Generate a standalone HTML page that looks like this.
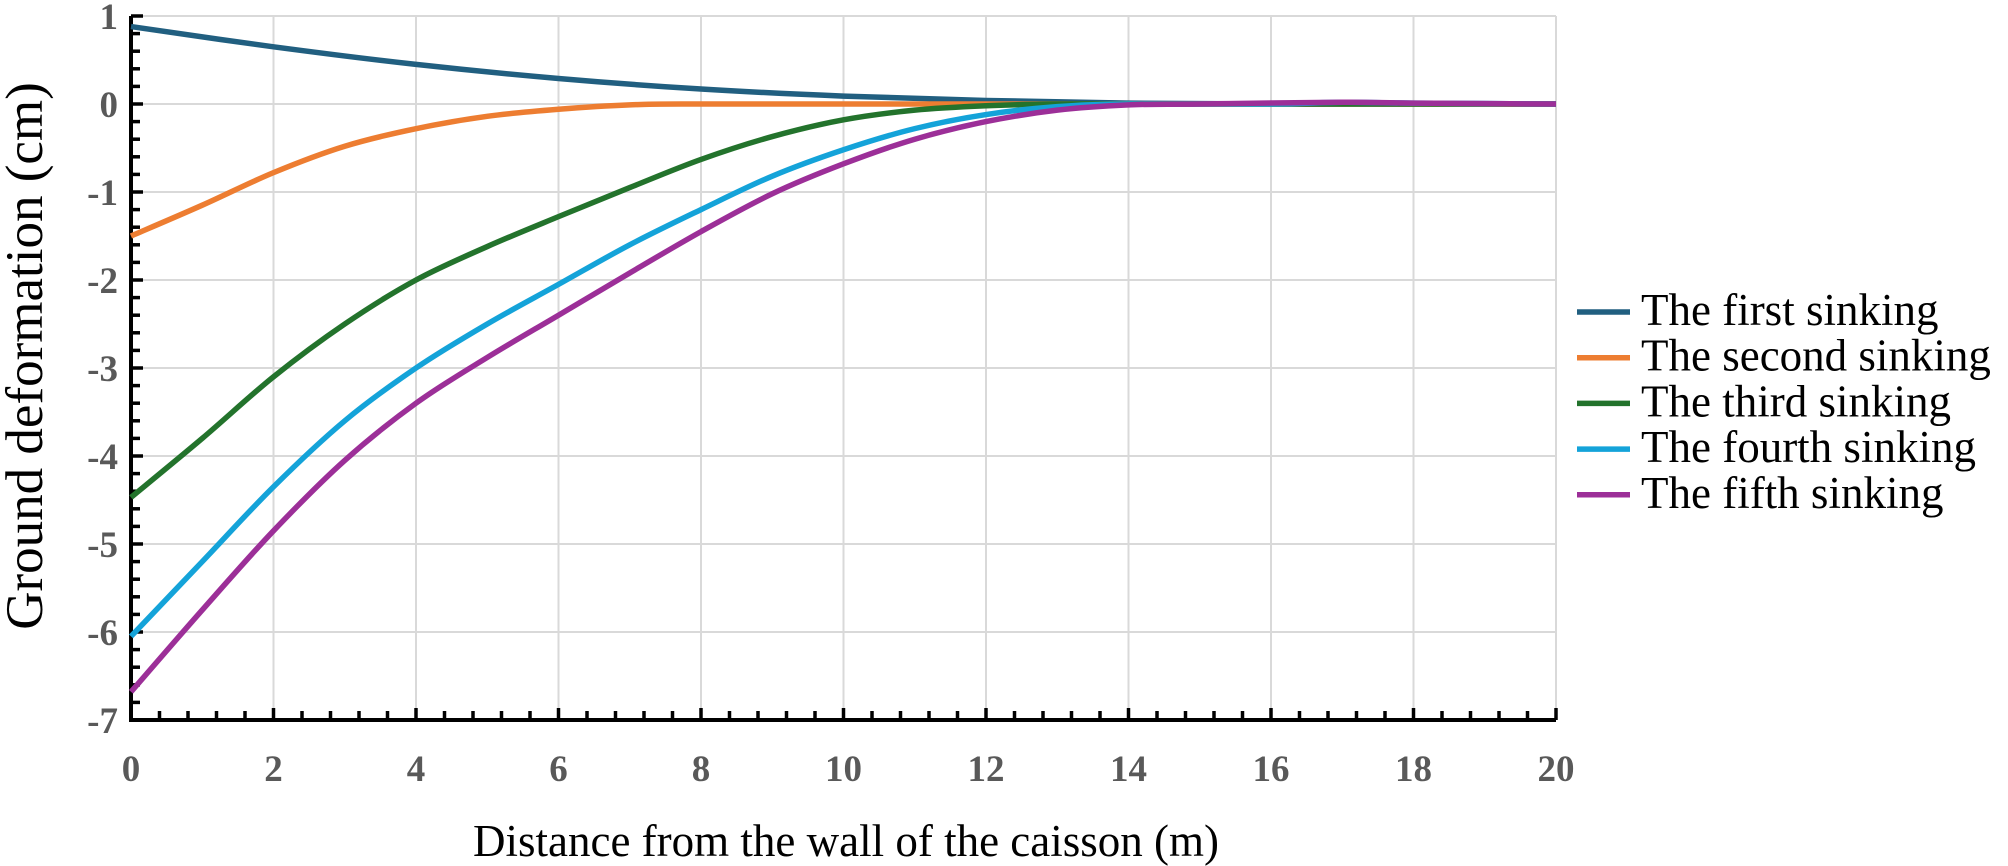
<!DOCTYPE html>
<html><head><meta charset="utf-8"><style>
html,body{margin:0;padding:0;background:#fff;width:2008px;height:866px;overflow:hidden}
svg text{font-family:"Liberation Serif",serif}
</style></head><body>
<svg id="s" width="2008" height="866" xmlns="http://www.w3.org/2000/svg"></svg>
<script>
const s=document.getElementById('s');
const X=x=>131+71.25*x, Y=v=>104-88*v;
let h='';
for(let x=2;x<=20;x+=2)h+=`<line x1="${X(x)}" y1="${Y(1)}" x2="${X(x)}" y2="${Y(-7)}" stroke="#d9d9d9" stroke-width="2"/>`;
for(let v=1;v>-7;v--)h+=`<line x1="${X(0)}" y1="${Y(v)}" x2="${X(20)}" y2="${Y(v)}" stroke="#d9d9d9" stroke-width="2"/>`;
for(let i=0;i<=40;i++){const v=1-i*0.2;const maj=i%5==0;h+=`<line x1="${X(0)}" y1="${Y(v)}" x2="${X(0)+(maj?12:9)}" y2="${Y(v)}" stroke="#000" stroke-width="3.5"/>`;}
for(let i=0;i<=50;i++){const x=i*0.4;const maj=i%5==0;h+=`<line x1="${X(x)}" y1="${Y(-7)}" x2="${X(x)}" y2="${Y(-7)-(maj?12:9)}" stroke="#000" stroke-width="3.5"/>`;}
h+=`<polyline points="${X(0)},${Y(1)} ${X(0)},${Y(-7)} ${X(20)},${Y(-7)}" fill="none" stroke="#000" stroke-width="4"/>`;
for(let v=1;v>=-7;v--)h+=`<text x="118" y="${Y(v)+13}" text-anchor="end" font-size="37" font-weight="bold" fill="#595959">${v}</text>`;
for(let x=0;x<=20;x+=2)h+=`<text x="${X(x)}" y="781" text-anchor="middle" font-size="37" font-weight="bold" fill="#595959">${x}</text>`;
h+=`<text x="846" y="856" text-anchor="middle" font-size="45" fill="#000">Distance from the wall of the caisson (m)</text>`;
h+=`<text transform="translate(42,356) rotate(-90)" text-anchor="middle" font-size="53" fill="#000">Ground deformation (cm)</text>`;
const data=[
['#215f80','The first sinking',[[0,.88],[2,.65],[4,.45],[6,.29],[8,.17],[10,.09],[12,.04],[14,.01],[16,0],[18,0],[20,0]]],
['#ed7d31','The second sinking',[[0,-1.5],[1,-1.15],[2,-.78],[3,-.48],[4,-.28],[5,-.14],[6,-.06],[7,-.01],[8,0],[12,0],[16,0],[20,0]]],
['#23732c','The third sinking',[[0,-4.47],[1,-3.8],[2,-3.1],[3,-2.5],[4,-2.0],[5,-1.62],[6,-1.28],[7,-.95],[8,-.63],[9,-.37],[10,-.18],[11,-.07],[12,-.02],[13,0],[14,0],[16,0],[20,0]]],
['#14a3d9','The fourth sinking',[[0,-6.05],[1,-5.2],[2,-4.35],[3,-3.6],[4,-3.0],[5,-2.5],[6,-2.05],[7,-1.6],[8,-1.2],[9,-.82],[10,-.52],[11,-.28],[12,-.12],[13,-.03],[14,0],[16,0],[17,.02],[18,.01],[20,0]]],
['#9c2f98','The fifth sinking',[[0,-6.68],[1,-5.75],[2,-4.85],[3,-4.05],[4,-3.4],[5,-2.88],[6,-2.4],[7,-1.92],[8,-1.45],[9,-1.02],[10,-.68],[11,-.4],[12,-.2],[13,-.07],[14,-.01],[15,0],[17,.02],[18,.01],[20,0]]]];
data.forEach((d,k)=>{
 const p=d[2].map(q=>[X(q[0]),Y(q[1])]);
 let path=`M${p[0][0]},${p[0][1]}`;
 for(let i=0;i<p.length-1;i++){const p0=p[Math.max(0,i-1)],p1=p[i],p2=p[i+1],p3=p[Math.min(p.length-1,i+2)];
  path+=` C${p1[0]+(p2[0]-p0[0])/6},${p1[1]+(p2[1]-p0[1])/6} ${p2[0]-(p3[0]-p1[0])/6},${p2[1]-(p3[1]-p1[1])/6} ${p2[0]},${p2[1]}`;}
 h+=`<path d="${path}" fill="none" stroke="${d[0]}" stroke-width="5.5" stroke-linejoin="round"/>`;
 const ly=312+k*45.7;
 h+=`<line x1="1577" y1="${ly}" x2="1630" y2="${ly}" stroke="${d[0]}" stroke-width="5.5"/>`;
 h+=`<text x="1641" y="${ly+13}" font-size="45" fill="#000">${d[1]}</text>`;
});
s.innerHTML=h;
</script>
</body></html>
